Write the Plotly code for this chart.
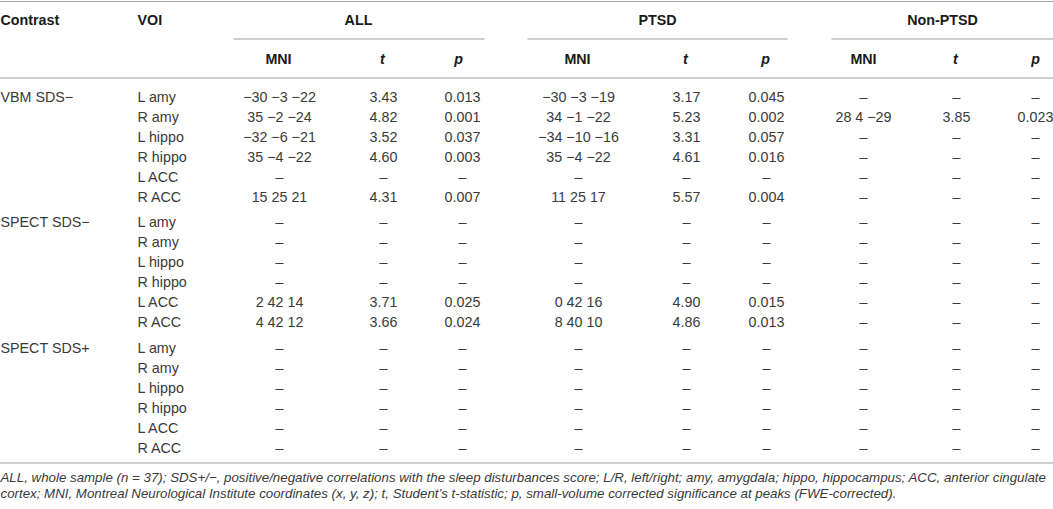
import plotly.graph_objects as go

D = "–"

contrasts = ["VBM SDS−", "SPECT SDS−", "SPECT SDS+"]
vois = ["L amy", "R amy", "L hippo", "R hippo", "L ACC", "R ACC"]
groups = ["ALL", "PTSD", "Non-PTSD"]
subcols = ["MNI", "t", "p"]

# ALL (whole sample)
all_mni = ["−30 −3 −22", "35 −2 −24", "−32 −6 −21", "35 −4 −22", D, "15 25 21",
           D, D, D, D, "2 42 14", "4 42 12",
           D, D, D, D, D, D]
all_t = [3.43, 4.82, 3.52, 4.60, None, 4.31,
         None, None, None, None, 3.71, 3.66,
         None, None, None, None, None, None]
all_p = [0.013, 0.001, 0.037, 0.003, None, 0.007,
         None, None, None, None, 0.025, 0.024,
         None, None, None, None, None, None]

# PTSD
ptsd_mni = ["−30 −3 −19", "34 −1 −22", "−34 −10 −16", "35 −4 −22", D, "11 25 17",
            D, D, D, D, "0 42 16", "8 40 10",
            D, D, D, D, D, D]
ptsd_t = [3.17, 5.23, 3.31, 4.61, None, 5.57,
          None, None, None, None, 4.90, 4.86,
          None, None, None, None, None, None]
ptsd_p = [0.045, 0.002, 0.057, 0.016, None, 0.004,
          None, None, None, None, 0.015, 0.013,
          None, None, None, None, None, None]

# Non-PTSD
non_mni = [D, "28 4 −29", D, D, D, D,
           D, D, D, D, D, D,
           D, D, D, D, D, D]
non_t = [None, 3.85, None, None, None, None,
         None, None, None, None, None, None,
         None, None, None, None, None, None]
non_p = [None, 0.023, None, None, None, None,
         None, None, None, None, None, None,
         None, None, None, None, None, None]

footnote_lines = [
    "ALL, whole sample (n = 37); SDS+/−, positive/negative correlations with the sleep disturbances score; "
    "L/R, left/right; amy, amygdala; hippo, hippocampus; ACC, anterior cingulate",
    "cortex; MNI, Montreal Neurological Institute coordinates (x, y, z); t, Student’s t-statistic; "
    "p, small-volume corrected significance at peaks (FWE-corrected).",
]

# ---------------- layout / styling (not data) ----------------
W, H = 1053, 509
FONT = "Liberation Sans, Arial, Helvetica, sans-serif"
TXT = "#3a3a3a"
HDR = "#1a1a1a"
LINE = "#a0a0a0"
FS = 14.3
FS_NOTE = 13.3

X_CONTRAST = 0
X_VOI = 137
VAL_X = {"ALL": (279, 383, 462), "PTSD": (578, 686, 766), "Non-PTSD": (863, 956, 1035)}
HEAD_X = {"ALL": (278, 382, 458), "PTSD": (577, 685, 765), "Non-PTSD": (863, 955, 1035)}
GROUP_X = {"ALL": 358, "PTSD": 657, "Non-PTSD": 942}
GROUP_LINE = {"ALL": (233, 484), "PTSD": (527, 787), "Non-PTSD": (831, 1053)}

Y_HEAD1, Y_HEAD2 = 21, 60
Y_ROW0, ROW_H, GROUP_GAP = 98, 20, 25.5
Y_NOTE = (479, 495)


def fmt(v, nd):
    return D if v is None else f"{v:.{nd}f}"


n_rows = len(contrasts) * len(vois)
ys = [Y_ROW0 + (i // len(vois)) * ((len(vois) - 1) * ROW_H + GROUP_GAP) + (i % len(vois)) * ROW_H
      for i in range(n_rows)]

fig = go.Figure()


def add_text(xs, yy, texts, pos, color=TXT, size=FS):
    fig.add_trace(go.Scatter(
        x=xs, y=yy, text=texts, mode="text", textposition=pos,
        textfont=dict(family=FONT, size=size, color=color),
        hoverinfo="skip", showlegend=False, cliponaxis=False))


# Header row 1
add_text([X_CONTRAST, X_VOI], [Y_HEAD1, Y_HEAD1], ["<b>Contrast</b>", "<b>VOI</b>"],
         "middle right", HDR)
add_text([GROUP_X[g] for g in groups], [Y_HEAD1] * 3, [f"<b>{g}</b>" for g in groups],
         "middle center", HDR)
# Header row 2
hx, hy, ht = [], [], []
for g in groups:
    for k, s in enumerate(subcols):
        hx.append(HEAD_X[g][k])
        hy.append(Y_HEAD2)
        ht.append(f"<b>{s}</b>" if s == "MNI" else f"<b><i>{s}</i></b>")
add_text(hx, hy, ht, "middle center", HDR)

# Contrast labels (first row of each block)
add_text([X_CONTRAST] * len(contrasts),
         [ys[k * len(vois)] for k in range(len(contrasts))], contrasts, "middle right")
# VOI labels
add_text([X_VOI] * n_rows, ys, vois * len(contrasts), "middle right")

# Values
series = {"ALL": (all_mni, all_t, all_p), "PTSD": (ptsd_mni, ptsd_t, ptsd_p),
          "Non-PTSD": (non_mni, non_t, non_p)}
for g in groups:
    mni, tv, pv = series[g]
    add_text([VAL_X[g][0]] * n_rows, ys, mni, "middle center")
    add_text([VAL_X[g][1]] * n_rows, ys, [fmt(v, 2) for v in tv], "middle center")
    add_text([VAL_X[g][2]] * n_rows, ys, [fmt(v, 3) for v in pv], "middle center")

# Footnote
add_text([0, 0], list(Y_NOTE), [f"<i>{s}</i>" for s in footnote_lines], "middle right",
         TXT, FS_NOTE)

shapes = [
    dict(type="line", x0=-1, x1=W + 1, y0=1.5, y1=1.5),
    dict(type="line", x0=-1, x1=W + 1, y0=78, y1=78),
    dict(type="line", x0=-1, x1=W + 1, y0=463, y1=463),
]
for g in groups:
    a, b = GROUP_LINE[g]
    shapes.append(dict(type="line", x0=a, x1=b + (1 if b >= W else 0), y0=39, y1=39))
for s in shapes:
    s.update(xref="x", yref="y", line=dict(color=LINE, width=1.2), layer="above")

fig.update_layout(
    width=W, height=H, margin=dict(l=0, r=0, t=0, b=0, pad=0),
    paper_bgcolor="white", plot_bgcolor="white",
    xaxis=dict(range=[-0.5, W - 0.5], visible=False, fixedrange=True),
    yaxis=dict(range=[H, 0], visible=False, fixedrange=True),
    shapes=shapes, showlegend=False,
)

fig.write_html("out.html", config={"displayModeBar": False},
               post_script="document.body.style.margin='0';document.body.style.padding='0';")
